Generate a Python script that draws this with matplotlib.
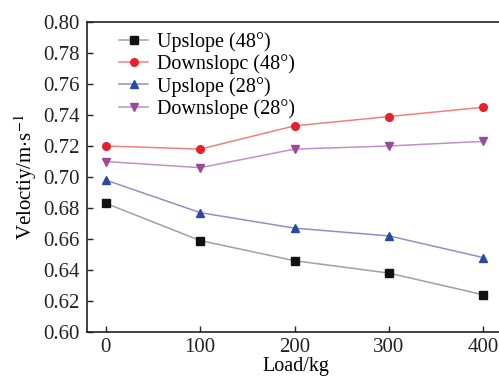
import matplotlib
matplotlib.use("Agg")
import matplotlib.pyplot as plt

loads = [0, 100, 200, 300, 400]
up48 = [0.683, 0.659, 0.646, 0.638, 0.624]
down48 = [0.720, 0.718, 0.733, 0.739, 0.745]
up28 = [0.698, 0.677, 0.667, 0.662, 0.648]
down28 = [0.710, 0.706, 0.718, 0.720, 0.723]
labels = ["Upslope (48°)", "Downslopc (48°)", "Upslope (28°)", "Downslope (28°)"]

plt.rcParams['font.family'] = ['Liberation Serif', 'DejaVu Serif']
plt.rcParams['mathtext.fontset'] = 'stix'

fig = plt.figure(figsize=(4.99, 3.78), dpi=100)
ax = fig.add_axes([87/499, 46/378, 418/499, 310/378])

series = [
    (up48, '#a0a0a0', 's', '#111111'),
    (down48, '#f08080', 'o', '#e8202a'),
    (up28, '#9090c8', '^', '#2a4aa0'),
    (down28, '#c090c8', 'v', '#9a4a9a'),
]
for (vals, lc, mk, mc), lab in zip(series, labels):
    ax.plot(loads, vals, color=lc, lw=1.1, marker=mk, markersize=5.5,
            markerfacecolor=mc, markeredgecolor=mc, label=lab, clip_on=False)

ax.set_xlim(-20, 423)
ax.set_ylim(0.60, 0.80)
ax.set_xticks(loads)
ax.set_yticks([0.60 + 0.02*i for i in range(11)])
ax.set_yticklabels([f"{0.60 + 0.02*i:.2f}" for i in range(11)])
ax.tick_params(direction='in', labelsize=15, length=4, width=1, colors='#222222')
ax.tick_params(axis='x', pad=4.5)
ax.tick_params(axis='y', pad=5)
for s in ax.spines.values():
    s.set_linewidth(1.2)
    s.set_color('#222222')
ax.spines['right'].set_visible(False)
ax.set_xlabel("Load/kg", fontsize=14.5, labelpad=0)
ax.set_ylabel(r"Veloctiy/m$\cdot$s$^{-1}$", fontsize=15, labelpad=3)

leg = ax.legend(loc='upper left', bbox_to_anchor=(0.045, 1.01), frameon=False,
                fontsize=14.5, handlelength=1.45, handletextpad=0.45,
                labelspacing=0.12, borderaxespad=0.25)

fig.savefig("out.png", dpi=100)
